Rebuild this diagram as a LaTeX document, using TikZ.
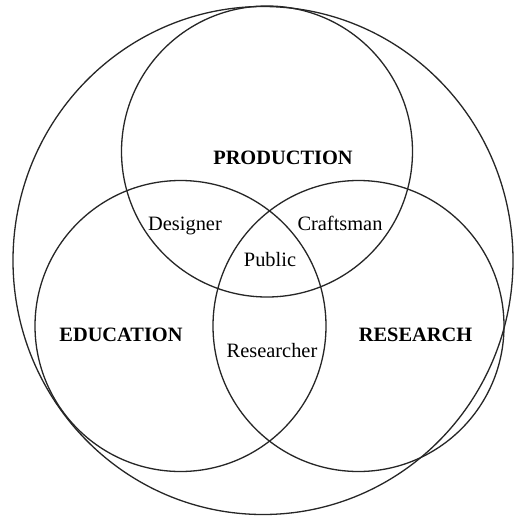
\documentclass[tikz,border=0pt]{standalone}
\usepackage{fontspec}
\setmainfont{Liberation Serif}
\begin{document}
\begin{tikzpicture}[x=1pt,y=-1pt,
  ring/.style={draw=black!85,line width=1.3pt},
  setlabel/.style={font=\fontsize{20.4}{22}\selectfont\bfseries,anchor=base,inner sep=0pt},
  rolelabel/.style={font=\fontsize{20.4}{22}\selectfont,anchor=base,inner sep=0pt}]
\useasboundingbox (0,0) rectangle (514,517);
\fill[white] (0,0) rectangle (514,517);
\draw[ring] (263,260.5) ellipse[x radius=250,y radius=254];
\draw[ring] (267,151.5) circle[radius=145.5];
\draw[ring] (180.5,326) circle[radius=145.5];
\draw[ring] (358.5,326) circle[radius=145.5];
\node[setlabel] (prod) at (283,164) {PRODUCTION};
\node[setlabel] (edu) at (121,341) {EDUCATION};
\node[setlabel] (res) at (415.5,341) {RESEARCH};
\node[rolelabel] (des) at (185,230) {Designer};
\node[rolelabel] (craft) at (340,230) {Craftsman};
\node[rolelabel] (pub) at (270,266) {Public};
\node[rolelabel] (resr) at (272,357) {Researcher};
\end{tikzpicture}
\end{document}
